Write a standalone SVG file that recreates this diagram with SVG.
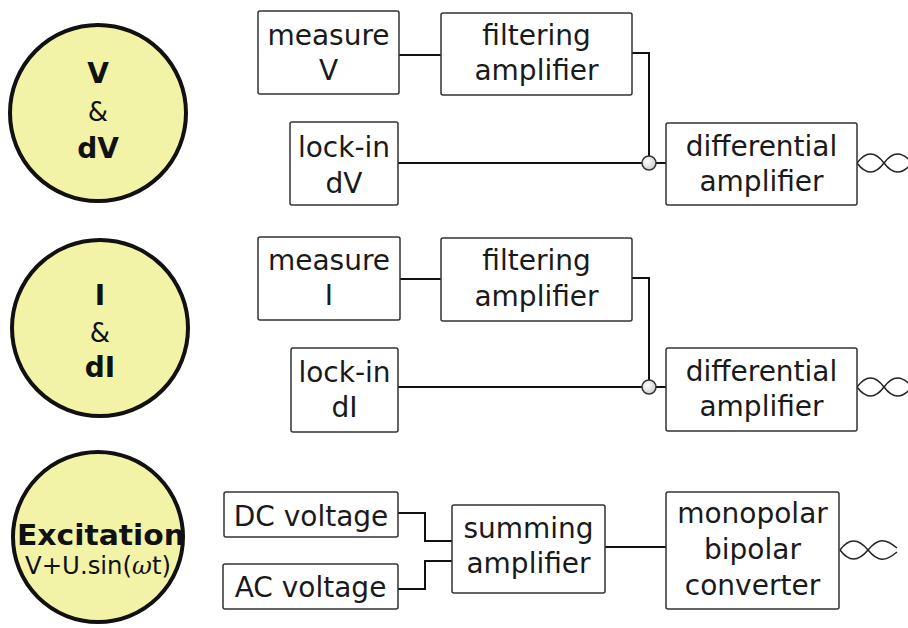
<svg xmlns="http://www.w3.org/2000/svg" width="908" height="628" viewBox="0 0 908 628">
<defs>
<style>
.bg{fill:#ffffff}
.big{fill:#f3f3a8;stroke:#111;stroke-width:4}
.box{fill:#ffffff;stroke:#333;stroke-width:1.5}
.t{font-family:"DejaVu Sans",sans-serif;font-size:28px;fill:#1a1a1a;text-anchor:middle}
.tb{font-family:"DejaVu Sans",sans-serif;font-size:28px;font-weight:bold;fill:#111;text-anchor:middle}
.amp{font-family:"DejaVu Sans",sans-serif;font-size:24px;fill:#111;text-anchor:middle}
.wire{fill:none;stroke:#111;stroke-width:2}
.wave{fill:none;stroke:#222;stroke-width:1.5}
.junc{stroke:#333;stroke-width:1.5}
</style>
<radialGradient id="jg" cx="0.4" cy="0.4" r="0.6">
<stop offset="0" stop-color="#ffffff"/>
<stop offset="1" stop-color="#cfcfcf"/>
</radialGradient>
</defs>
<rect class="bg" x="0" y="0" width="908" height="628"/>

<g id="connectors">
<path class="wire" d="M399,55 H441"/>
<path class="wire" d="M632,53 H649 V156"/>
<path class="wire" d="M398,163 H642"/>
<path class="wire" d="M656,163 H666"/>
<path class="wire" d="M400,279 H441"/>
<path class="wire" d="M632,278 H649 V380"/>
<path class="wire" d="M398,387 H642"/>
<path class="wire" d="M656,387 H666"/>
<path class="wire" d="M398,513 H425 V541 H452"/>
<path class="wire" d="M398,589 H425 V561 H452"/>
<path class="wire" d="M605,547 H666"/>
<circle class="junc" fill="url(#jg)" cx="649" cy="163" r="7"/>
<circle class="junc" fill="url(#jg)" cx="649" cy="387" r="7"/>
<path class="wave" d="M857,163 C866,151 875,151 884,163 S902,175 912,163 M857,163 C866,175 875,175 884,163 S902,151 912,163"/>
<path class="wave" d="M857,387 C866,375 875,375 884,387 S902,399 912,387 M857,387 C866,399 875,399 884,387 S902,375 912,387"/>
<path class="wave" d="M840,550 C849,538 858,538 868,550 S885,562 897,552 M840,550 C849,562 858,562 868,550 S885,538 897,548"/>
</g>

<g id="circle-v">
<circle class="big" cx="98" cy="113" r="88"/>
<text class="tb" x="98" y="83">V</text>
<text class="amp" x="98" y="121" style="font-size:26px">&amp;</text>
<text class="tb" x="98" y="158">dV</text>
</g>

<g id="circle-i">
<circle class="big" cx="100" cy="328" r="88"/>
<text class="tb" x="100" y="305">I</text>
<text class="amp" x="100" y="342" style="font-size:26px">&amp;</text>
<text class="tb" x="100" y="377">dI</text>
</g>

<g id="circle-exc">
<circle class="big" cx="98" cy="537" r="85"/>
<text class="tb" x="101" y="545" style="font-size:29px" textLength="168" lengthAdjust="spacingAndGlyphs">Excitation</text>
<text class="amp" x="98" y="574" textLength="146" lengthAdjust="spacingAndGlyphs">V+U.sin(<tspan font-family="DejaVu Serif" font-style="italic">ω</tspan>t)</text>
</g>

<g id="measure-v">
<rect class="box" x="258" y="11" width="141" height="83" rx="2"/>
<text class="t" x="328.5" y="45">measure</text>
<text class="t" x="328.5" y="80">V</text>
</g>

<g id="filter-v">
<rect class="box" x="441" y="13" width="191" height="82" rx="2"/>
<text class="t" x="536.5" y="45">filtering</text>
<text class="t" x="536.5" y="80">amplifier</text>
</g>

<g id="lockin-v">
<rect class="box" x="290" y="122" width="108" height="83" rx="2"/>
<text class="t" x="344" y="157">lock-in</text>
<text class="t" x="344" y="193">dV</text>
</g>

<g id="diff-v">
<rect class="box" x="666" y="123" width="191" height="82" rx="2"/>
<text class="t" x="761.5" y="156">differential</text>
<text class="t" x="761.5" y="191">amplifier</text>
</g>

<g id="measure-i">
<rect class="box" x="258" y="237" width="142" height="83" rx="2"/>
<text class="t" x="329" y="270">measure</text>
<text class="t" x="329" y="305">I</text>
</g>

<g id="filter-i">
<rect class="box" x="441" y="238" width="191" height="83" rx="2"/>
<text class="t" x="536.5" y="270">filtering</text>
<text class="t" x="536.5" y="306">amplifier</text>
</g>

<g id="lockin-i">
<rect class="box" x="291" y="348" width="107" height="84" rx="2"/>
<text class="t" x="344.5" y="382">lock-in</text>
<text class="t" x="344.5" y="417">dI</text>
</g>

<g id="diff-i">
<rect class="box" x="666" y="348" width="191" height="83" rx="2"/>
<text class="t" x="761.5" y="381">differential</text>
<text class="t" x="761.5" y="416">amplifier</text>
</g>

<g id="dc-voltage">
<rect class="box" x="224" y="492" width="174" height="45" rx="2"/>
<text class="t" x="311" y="526">DC voltage</text>
</g>

<g id="ac-voltage">
<rect class="box" x="223" y="564" width="175" height="45" rx="2"/>
<text class="t" x="310.5" y="597">AC voltage</text>
</g>

<g id="summing">
<rect class="box" x="452" y="505" width="153" height="88" rx="2"/>
<text class="t" x="528.5" y="538">summing</text>
<text class="t" x="528.5" y="573">amplifier</text>
</g>

<g id="converter">
<rect class="box" x="666" y="492" width="173" height="117" rx="2"/>
<text class="t" x="752.5" y="523">monopolar</text>
<text class="t" x="752.5" y="559">bipolar</text>
<text class="t" x="752.5" y="595">converter</text>
</g>
</svg>
